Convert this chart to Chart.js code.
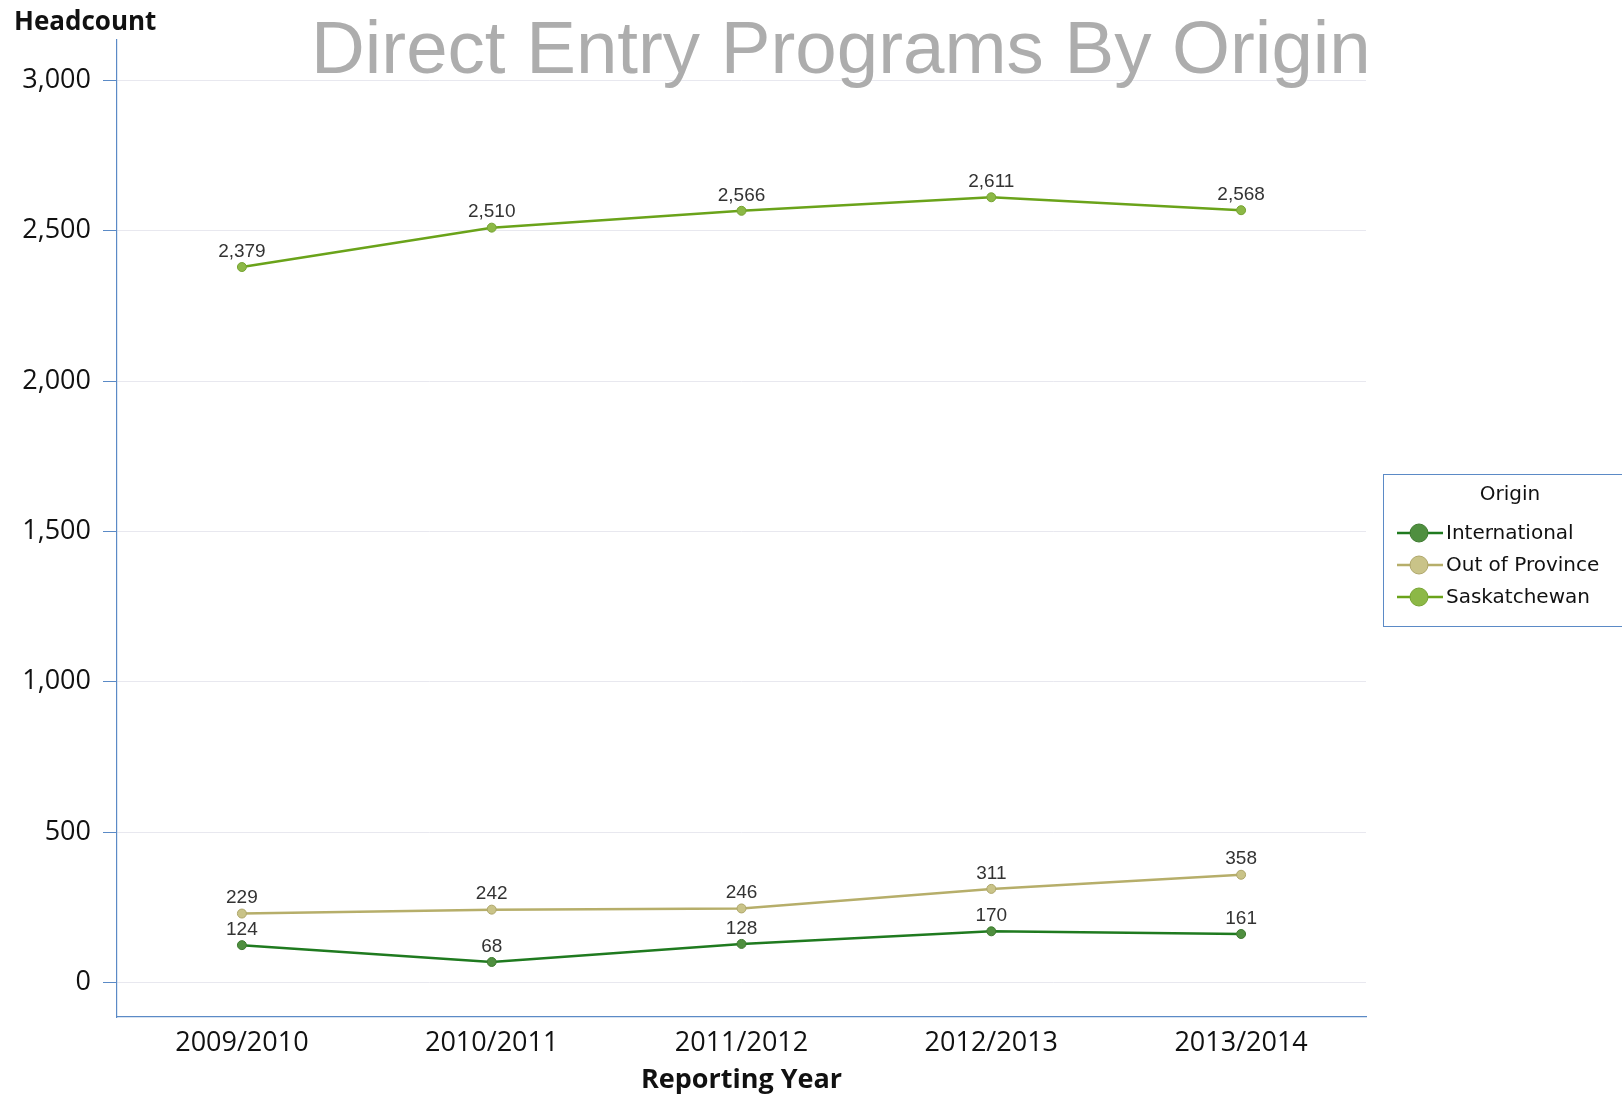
<!DOCTYPE html>
<html>
<head>
<meta charset="utf-8">
<script src="https://cdn.jsdelivr.net/npm/chart.js@4"></script>
<style>
  html, body { margin: 0; padding: 0; background: #fff; }
  #wrap { width: 1622px; height: 1094px; }
</style>
</head>
<body>
<div id="wrap"><canvas id="line-chart" width="1622" height="1094"></canvas></div>
<script>
// chart values
const years = ['2009/2010', '2010/2011', '2011/2012', '2012/2013', '2013/2014'];
const international = [124, 68, 128, 170, 161];
const outOfProvince = [229, 242, 246, 311, 358];
const saskatchewan = [2379, 2510, 2566, 2611, 2568];
const yTicks = [0, 500, 1000, 1500, 2000, 2500, 3000];

const axisBlue = '#5b8ac6';
const uiFont = '"Open Sans", "Noto Sans", sans-serif';

// value labels above each point
const pointLabels = {
    id: 'pointLabels',
    afterDatasetsDraw(chart) {
        const ctx = chart.ctx;
        ctx.save();
        ctx.font = '19px "Liberation Sans Narrow", "Liberation Sans", sans-serif';
        ctx.fillStyle = '#333';
        ctx.textAlign = 'center';
        ctx.textBaseline = 'middle';
        chart.data.datasets.forEach((ds, i) => {
            chart.getDatasetMeta(i).data.forEach((pt, j) => {
                ctx.fillText(ds.data[j].toLocaleString('en-US'), pt.x, pt.y - 15.5);
            });
        });
        ctx.restore();
    }
};

// title, axis captions and the boxed legend
const extras = {
    id: 'extras',
    afterDraw(chart) {
        const ctx = chart.ctx;
        ctx.save();
        ctx.fillStyle = '#adadad';
        ctx.font = '74.5px "Liberation Sans", Arial, sans-serif';
        ctx.textAlign = 'left';
        ctx.textBaseline = 'alphabetic';
        ctx.fillText('Direct Entry Programs By Origin', 311, 73);

        ctx.fillStyle = '#111';
        ctx.font = 'bold 26px ' + uiFont;
        ctx.textBaseline = 'middle';
        ctx.fillText('Headcount', 14, 23);
        ctx.textAlign = 'center';
        ctx.font = 'bold 27px ' + uiFont;
        ctx.fillText('Reporting Year', (chart.chartArea.left + chart.chartArea.right) / 2, 1080);

        // legend
        ctx.strokeStyle = axisBlue;
        ctx.lineWidth = 1;
        ctx.strokeRect(1383.5, 474.5, 260, 152);
        ctx.fillStyle = '#111';
        ctx.font = '20px "DejaVu Sans", sans-serif';
        ctx.textAlign = 'center';
        ctx.fillText('Origin', 1510, 495);
        ctx.textAlign = 'left';
        chart.data.datasets.forEach((ds, i) => {
            const y = 533 + i * 32;
            ctx.strokeStyle = ds.borderColor;
            ctx.lineWidth = 2.5;
            ctx.beginPath();
            ctx.moveTo(1397, y);
            ctx.lineTo(1443, y);
            ctx.stroke();
            ctx.beginPath();
            ctx.arc(1419, y, 9, 0, Math.PI * 2);
            ctx.fillStyle = ds.pointBackgroundColor;
            ctx.fill();
            ctx.lineWidth = 1;
            ctx.strokeStyle = ds.pointBorderColor;
            ctx.stroke();
            ctx.fillStyle = '#111';
            ctx.fillText(ds.label, 1446, y + 1);
        });
        ctx.restore();
    }
};

function series(label, data, line, fill, edge) {
    return {
        label: label,
        data: data,
        borderColor: line,
        borderWidth: 2.5,
        pointRadius: 4.5,
        pointHoverRadius: 4.5,
        pointBackgroundColor: fill,
        pointBorderColor: edge,
        pointBorderWidth: 1,
        tension: 0
    };
}

const config = {
    type: 'line',
    data: {
        labels: years,
        datasets: [
            series('International', international, '#1f7a1f', '#4f8f3f', '#3e7a30'),
            series('Out of Province', outOfProvince, '#b6ae6a', '#c9c388', '#aea66a'),
            series('Saskatchewan', saskatchewan, '#6aa31a', '#8cb846', '#76a332')
        ]
    },
    options: {
        responsive: false,
        animation: false,
        events: [],
        layout: { padding: { top: 40, right: 256, bottom: 0, left: 0 } },
        plugins: { legend: { display: false }, tooltip: { enabled: false } },
        scales: {
            x: {
                offset: true,
                grid: { display: false, drawTicks: false },
                border: { color: axisBlue, width: 1.2 },
                ticks: { color: '#111', padding: 10, font: { family: uiFont, size: 27 } },
                afterFit: (s) => { s.height = 77; }
            },
            y: {
                min: -115,
                max: 3134,
                grid: { color: '#e8e8ef', tickColor: axisBlue, tickLength: 14, lineWidth: 1 },
                border: { color: axisBlue, width: 1.2 },
                ticks: {
                    color: '#111',
                    padding: 12,
                    font: { family: uiFont, size: 27 },
                    callback: (v) => v.toLocaleString('en-US')
                },
                afterBuildTicks: (s) => { s.ticks = yTicks.map(v => ({ value: v })); },
                afterFit: (s) => { s.width = 117; }
            }
        }
    },
    plugins: [pointLabels, extras]
};

new Chart(document.getElementById('line-chart'), config);
</script>
</body>
</html>
